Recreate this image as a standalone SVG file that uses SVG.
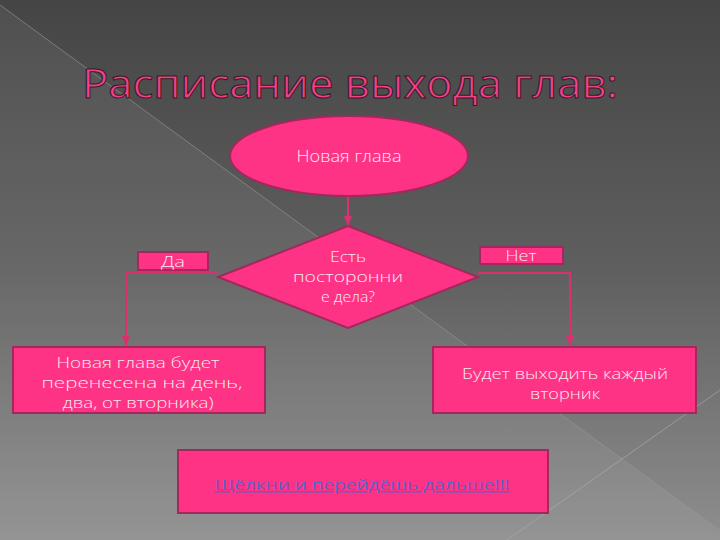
<svg xmlns="http://www.w3.org/2000/svg" width="720" height="540" viewBox="0 0 720 540">
<defs>
<linearGradient id="bg" x1="0" y1="0" x2="0" y2="1">
<stop offset="0" stop-color="#454545"/>
<stop offset="0.5" stop-color="#5f5f5f"/>
<stop offset="1" stop-color="#8e8e8e"/>
</linearGradient>
<marker id="arr" viewBox="0 0 10 10" refX="9" refY="5" markerWidth="5" markerHeight="5" orient="auto">
<path d="M0,1 L10,5 L0,9 z" fill="#d9306f"/>
</marker>
<style>
.shape{fill:#ff3385;stroke:#a3285c;stroke-width:2}
.lbl{font-family:"Open Sans","DejaVu Sans",sans-serif;fill:#f7e9f0;text-anchor:middle;font-weight:300}
.conn{fill:none;stroke:#d9306f;stroke-width:2}
</style>
</defs>
<rect width="720" height="540" fill="url(#bg)"/>
<polygon points="0,5 733,540 0,540" fill="#ffffff" opacity="0.06"/>
<line x1="0" y1="5" x2="733" y2="540" stroke="#9a9a9a" stroke-width="1" opacity="0.6"/>
<line x1="507" y1="540" x2="720" y2="390" stroke="#b0b0b0" stroke-width="1" opacity="0.6"/>
<text x="350" y="98" font-family="'Open Sans','DejaVu Sans',sans-serif" font-size="40" fill="#f2408a" stroke="#3a1a26" stroke-width="1" text-anchor="middle" textLength="536" lengthAdjust="spacingAndGlyphs">Расписание выхода глав:</text>
<g id="connectors">
<line class="conn" x1="348" y1="196" x2="348" y2="225" marker-end="url(#arr)"/>
<polyline class="conn" points="218,273 126,273 126,345" marker-end="url(#arr)"/>
<polyline class="conn" points="478,273 570,273 570,345" marker-end="url(#arr)"/>
</g>
<g id="start">
<ellipse class="shape" cx="349" cy="156" rx="119" ry="40"/>
<text class="lbl" x="349" y="162" font-size="16" textLength="105" lengthAdjust="spacingAndGlyphs">Новая глава</text>
</g>
<g id="decision">
<polygon class="shape" points="348,226 478,277 348,328 218,277"/>
<text class="lbl" x="348" y="262" font-size="15" textLength="36" lengthAdjust="spacingAndGlyphs">Есть</text>
<text class="lbl" x="348" y="282" font-size="15" textLength="110" lengthAdjust="spacingAndGlyphs">посторонни</text>
<text class="lbl" x="348" y="302" font-size="15" textLength="54" lengthAdjust="spacingAndGlyphs">е дела?</text>
</g>
<g id="yes">
<rect class="shape" x="138" y="252" width="70" height="18"/>
<text class="lbl" x="173" y="267" font-size="15" textLength="24" lengthAdjust="spacingAndGlyphs">Да</text>
</g>
<g id="no">
<rect class="shape" x="480" y="247" width="83" height="17"/>
<text class="lbl" x="521" y="261" font-size="15" textLength="31" lengthAdjust="spacingAndGlyphs">Нет</text>
</g>
<g id="postponed">
<rect class="shape" x="13" y="347" width="252" height="66"/>
<text class="lbl" x="138" y="368" font-size="15" textLength="163" lengthAdjust="spacingAndGlyphs">Новая глава будет</text>
<text class="lbl" x="142" y="388" font-size="15" textLength="201" lengthAdjust="spacingAndGlyphs">перенесена на день,</text>
<text class="lbl" x="138" y="408" font-size="15" textLength="151" lengthAdjust="spacingAndGlyphs">два, от вторника)</text>
</g>
<g id="weekly">
<rect class="shape" x="433" y="347" width="263" height="66"/>
<text class="lbl" x="565" y="379" font-size="15" textLength="206" lengthAdjust="spacingAndGlyphs">Будет выходить каждый</text>
<text class="lbl" x="565" y="399" font-size="15" textLength="70" lengthAdjust="spacingAndGlyphs">вторник</text>
</g>
<g id="link">
<rect class="shape" x="178" y="450" width="370" height="63"/>
<text x="362" y="490" font-family="'Open Sans','DejaVu Sans',sans-serif" font-size="15" fill="#5b62c8" text-anchor="middle" text-decoration="underline" textLength="295" lengthAdjust="spacingAndGlyphs">Щёлкни и перейдёшь дальше!!!</text>
</g>
</svg>
